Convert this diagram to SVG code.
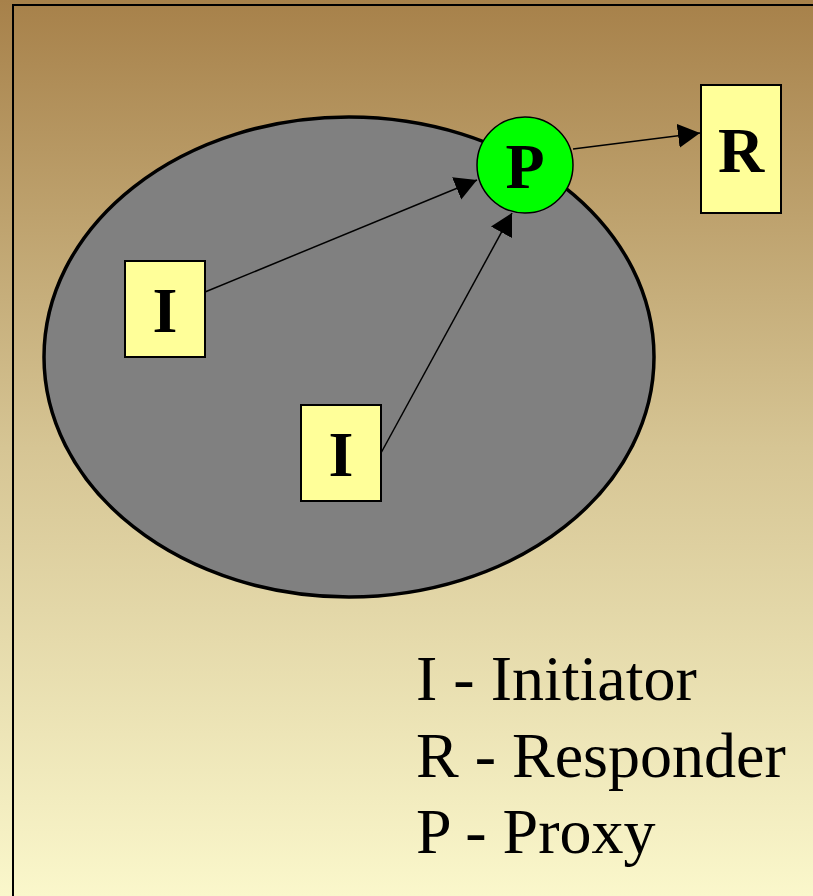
<svg xmlns="http://www.w3.org/2000/svg" width="813" height="896" viewBox="0 0 813 896">
<defs>
<linearGradient id="bg" x1="0" y1="0" x2="0" y2="1">
<stop offset="0" stop-color="#A7814A"/>
<stop offset="0.5" stop-color="#D6C594"/>
<stop offset="1" stop-color="#FAF7CB"/>
</linearGradient>
<marker id="ah" markerUnits="userSpaceOnUse" markerWidth="26" markerHeight="26" refX="22" refY="12" orient="auto">
<path d="M0,0 L22,12 L0,24 Z" fill="#000"/>
</marker>
</defs>
<style>
.box{fill:#FFFF99;stroke:#000;stroke-width:2}
.lbl{font-family:"Liberation Serif","Times New Roman",serif;font-weight:bold;font-size:64px;fill:#000;text-anchor:middle}
.leg{font-family:"Liberation Serif","Times New Roman",serif;font-size:64px;fill:#000}
.conn{stroke:#000;stroke-width:1.5;fill:none;marker-end:url(#ah)}
</style>
<rect x="0" y="0" width="813" height="896" fill="url(#bg)"/>
<rect x="13" y="5" width="900" height="1000" fill="none" stroke="#000" stroke-width="2"/>
<g id="network">
<ellipse cx="349" cy="357" rx="305" ry="240" fill="#808080" stroke="#000" stroke-width="3.5"/>
</g>
<g id="connectors">
<line class="conn" x1="205" y1="292" x2="477" y2="180"/>
<line class="conn" x1="381" y1="453" x2="512" y2="213"/>
<line class="conn" x1="573" y1="149" x2="700" y2="133"/>
</g>
<g id="initiator1">
<rect class="box" x="125" y="261" width="80" height="96"/>
<text class="lbl" x="165" y="332">I</text>
</g>
<g id="initiator2">
<rect class="box" x="301" y="405" width="80" height="96"/>
<text class="lbl" x="341" y="476">I</text>
</g>
<g id="proxy">
<circle cx="525" cy="165" r="48" fill="#00FF00" stroke="#000" stroke-width="1.5"/>
<text class="lbl" x="525" y="188">P</text>
</g>
<g id="responder">
<rect class="box" x="701" y="85" width="80" height="128"/>
<text class="lbl" x="741" y="172">R</text>
</g>
<g id="legend">
<text class="leg" x="416" y="700">I - Initiator</text>
<text class="leg" x="416" y="777">R - Responder</text>
<text class="leg" x="416" y="853">P - Proxy</text>
</g>
</svg>
